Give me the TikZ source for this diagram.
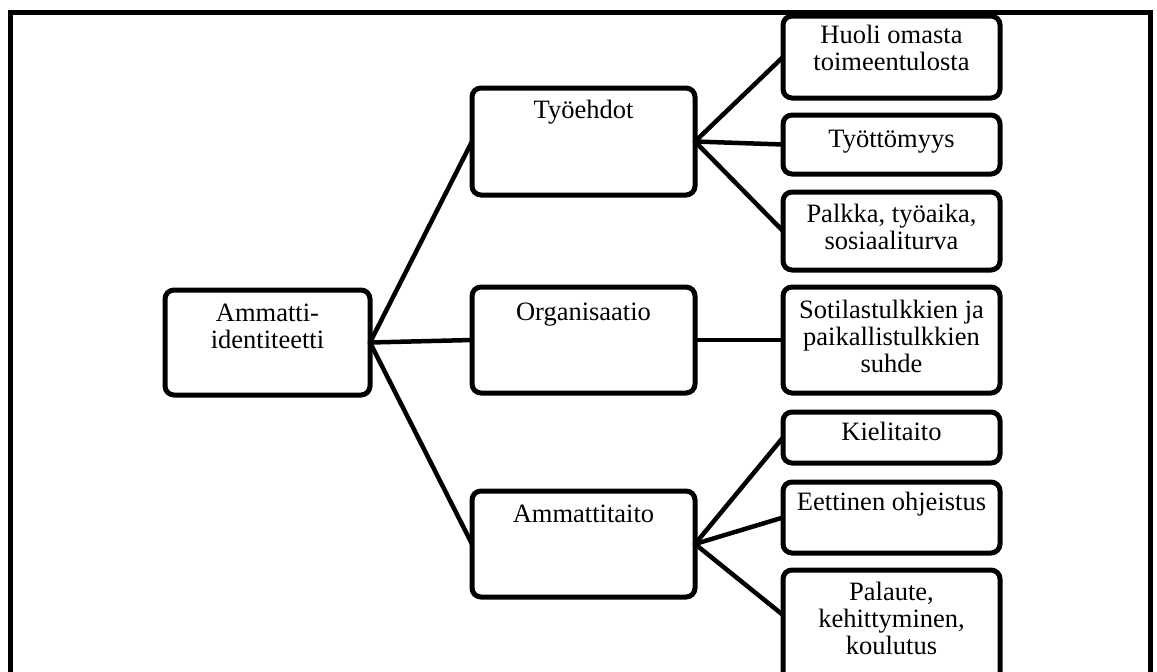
\documentclass[tikz,border=0pt]{standalone}
\usepackage{fontspec}
\setmainfont{Liberation Serif}
\begin{document}
\begin{tikzpicture}[x=1pt,y=-1pt,
  box/.style={draw, line width=5pt, rounded corners=9pt, inner sep=0pt, outer sep=0pt},
  txt/.style={anchor=north, inner sep=0pt, align=center, font=\fontsize{26.5}{27}\selectfont},
  link/.style={line width=4.5pt, line cap=round}]
\useasboundingbox (0,0) rectangle (1157,672);
\clip (0,0) rectangle (1157,672);
% frame
\draw[line width=5pt] (10.5,700) -- (10.5,12.5) -- (1150.5,12.5) -- (1150.5,700);
% boxes
\node[box, minimum width=205pt, minimum height=105pt] (root) at (267.5,342.5) {};
\node[box, minimum width=223pt, minimum height=107pt] (ty) at (583.5,141.5) {};
\node[box, minimum width=223pt, minimum height=106pt] (org) at (583.5,340) {};
\node[box, minimum width=223pt, minimum height=106pt] (amt) at (583.5,544) {};
\node[box, minimum width=217pt, minimum height=82pt] (huoli) at (891.5,57) {};
\node[box, minimum width=217pt, minimum height=59pt] (tyot) at (891.5,144.5) {};
\node[box, minimum width=217pt, minimum height=78pt] (palk) at (891.5,231) {};
\node[box, minimum width=217pt, minimum height=106pt] (sot) at (891.5,340) {};
\node[box, minimum width=217pt, minimum height=51pt] (kiel) at (891.5,437.5) {};
\node[box, minimum width=217pt, minimum height=71pt] (eet) at (891.5,517.5) {};
\node[box, minimum width=217pt, minimum height=120pt] (pal) at (891.5,630) {};
% texts
\node[txt] (rootT) at ([yshift=-12pt]root.north) {\strut Ammatti-\\identiteetti};
\node[txt] (tyT) at ([yshift=-11pt]ty.north) {\strut Työehdot};
\node[txt] (orgT) at ([yshift=-14pt]org.north) {\strut Organisaatio};
\node[txt] (amtT) at ([yshift=-12pt]amt.north) {\strut Ammattitaito};
\node[txt] (huoliT) at ([yshift=-8pt]huoli.north) {\strut Huoli omasta\\toimeentulosta};
\node[txt] (tyotT) at ([yshift=-13pt]tyot.north) {\strut Työttömyys};
\node[txt] (palkT) at ([yshift=-11pt]palk.north) {\strut Palkka, työaika,\\sosiaaliturva};
\node[txt] (sotT) at ([yshift=-12pt]sot.north) {\strut Sotilastulkkien ja\\paikallistulkkien\\suhde};
\node[txt] (kielT) at ([yshift=-9pt]kiel.north) {\strut Kielitaito};
\node[txt] (eetT) at ([yshift=-9pt]eet.north) {\strut Eettinen ohjeistus};
\node[txt] (palT) at ([yshift=-11pt]pal.north) {\strut Palaute,\\kehittyminen,\\koulutus};
% connectors
\coordinate (palIn) at ([yshift=-45pt]pal.north west);
\draw[link] (root.east) -- (ty.west);
\draw[link] (root.east) -- (org.west);
\draw[link] (root.east) -- (amt.west);
\draw[link] (ty.east) -- (huoli.west);
\draw[link] (ty.east) -- (tyot.west);
\draw[link] (ty.east) -- (palk.west);
\draw[link] (org.east) -- (sot.west);
\draw[link] (amt.east) -- (kiel.west);
\draw[link] (amt.east) -- (eet.west);
\draw[link] (amt.east) -- (palIn);
\end{tikzpicture}
\end{document}
